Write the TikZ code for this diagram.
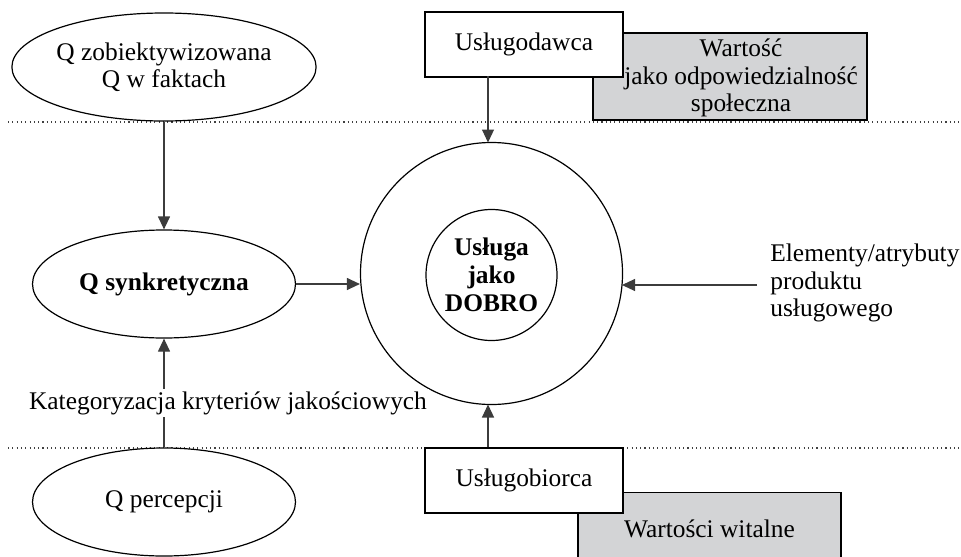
\documentclass[tikz,border=0pt]{standalone}
\usepackage{fontspec}
\setmainfont{Liberation Serif}
\usepackage{tikz}
\usetikzlibrary{arrows.meta,shapes.geometric,calc,positioning}
\definecolor{szary}{RGB}{211,212,214}
\definecolor{strzalka}{RGB}{60,60,60}

\tikzset{
  tekst/.style={font=\fontsize{12.7}{13.6}\selectfont,align=center},
  owal/.style={tekst,ellipse,draw,line width=0.6pt,fill=white,
               minimum width=131.5pt,minimum height=54pt,inner sep=0pt},
  ramka/.style={tekst,rectangle,draw,line width=0.6pt,fill=white,
                minimum width=99pt,minimum height=32.5pt},
  szara/.style={tekst,rectangle,draw,line width=0.6pt,fill=szary,inner sep=0pt},
  strz/.style={strzalka,line width=0.6pt,-{Triangle[length=6.5pt,width=6pt]}},
  kropki/.style={black!75,line width=0.55pt,dash pattern=on 0.55pt off 1.6pt}
}

\begin{document}
\begin{tikzpicture}[x=0.5pt,y=-0.5pt]
\useasboundingbox (0,0) rectangle (961,556);

% linie podzialu
\draw[kropki] (8,122) -- (961,122);
\draw[kropki] (8,448) -- (961,448);

% jakosc po lewej stronie
\node[owal] (qobj)  at (164,67)  {Q zobiektywizowana\\Q w faktach};
\node[owal] (qsynk) at (164,284) {\textbf{Q synkretyczna}};
\node[owal] (qperc) at (164,502) {Q percepcji};

% usluga w srodku
\node[circle,draw,line width=0.6pt,minimum size=131pt,inner sep=0pt] (dobro) at (491.5,273.5) {};
\node[tekst,circle,draw,line width=0.6pt,minimum size=65.5pt,inner sep=0pt,
      font=\fontsize{12.7}{14}\selectfont\bfseries] (dobroin) at (491.5,275) {Usługa\\jako\\DOBRO};

% strony uslugi i wartosci
\node[szara,minimum width=137pt,minimum height=43.5pt] (wartA) at (730,76.5) {};
\node[tekst,inner sep=0pt] (wartAtekst) at (741,78) {Wartość\\jako odpowiedzialność\\społeczna};
\node[ramka] (dawca)  at (524,44.5)  {Usługodawca};
\node[szara,minimum width=131.5pt,minimum height=36pt,anchor=north] (wartB) at (709.5,492)
  {Wartości witalne};
\node[ramka] (biorca) at (524,480.5) {Usługobiorca};

\node[tekst,align=left,anchor=west,inner sep=0pt] (elem) at (770,283) {Elementy/atrybuty\\produktu\\usługowego};
\coordinate (elemkon) at (757,285);

% strzalki
\draw[strz] (qobj.south) -- (qsynk.north);
\draw[strz] (qperc.north) -- (qsynk.south);
\node[tekst,fill=white,inner sep=1pt] (kat) at (228,403) {Kategoryzacja kryteriów jakościowych};
\draw[strz] (qsynk.east) -- (qsynk.east -| dobro.west);
\draw[strz] (elemkon) -- ($(dobro.center)+(130.5,11.5)$);
\draw[strz] (dobro.north -| 488,0) ++(0,-66) -- ($(dobro.center)+(-3.5,-131)$);
\draw[strz] (biorca.north -| 488,0) -- ($(dobro.center)+(-3.5,131)$);
\end{tikzpicture}
\end{document}
